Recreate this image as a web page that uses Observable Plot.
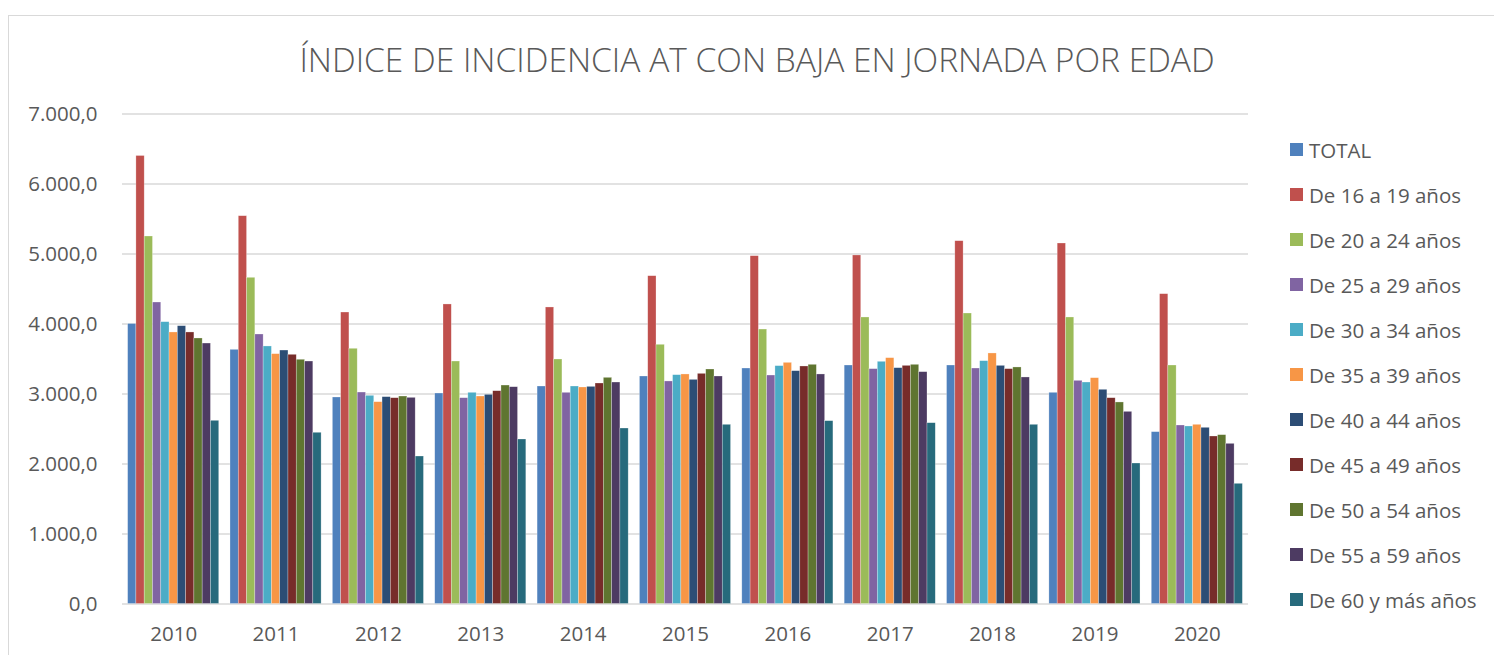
<!DOCTYPE html>
<html>
<head>
<meta charset="utf-8">
<script src="https://cdn.jsdelivr.net/npm/d3@7"></script>
<script src="https://cdn.jsdelivr.net/npm/@observablehq/plot@0.6"></script>
<style>
  body { margin: 0; background: #fff; font-family: "Open Sans", sans-serif; }
  #wrap { position: relative; width: 1494px; height: 655px; overflow: hidden; background: #fff; }
  #border { position: absolute; left: 8px; top: 15px; right: -2px; bottom: -2px; border-top: 1.5px solid #d9d9d9; border-left: 1.5px solid #d9d9d9; }
  #title { position: absolute; left: 0; top: 36px; width: 1514px; text-align: center; font-size: 33.5px; line-height: 46px; font-weight: 300; color: #595959; letter-spacing: 0; white-space: nowrap; }
  #legend { position: absolute; left: 1290px; top: 127px; }
  .item { height: 45px; display: flex; align-items: center; font-size: 20.5px; color: #595959; white-space: nowrap; }
  .sw { width: 13px; height: 13px; margin-right: 6px; flex: none; }
  #chart { position: absolute; left: 0; top: 0; }
</style>
</head>
<body>
<div id="wrap">
  <div id="border"></div>
  <div id="chart"></div>
  <div id="title">ÍNDICE DE INCIDENCIA AT CON BAJA EN JORNADA POR EDAD</div>
  <div id="legend"></div>
</div>
<script>
const years = ["2010", "2011", "2012", "2013", "2014", "2015", "2016", "2017", "2018", "2019", "2020"];
const series = ["TOTAL", "De 16 a 19 años", "De 20 a 24 años", "De 25 a 29 años", "De 30 a 34 años",
  "De 35 a 39 años", "De 40 a 44 años", "De 45 a 49 años", "De 50 a 54 años", "De 55 a 59 años", "De 60 y más años"];
const colors = ["#4F81BD", "#C0504D", "#9BBB59", "#8064A2", "#4BACC6", "#F79646",
  "#2C4D75", "#772C2A", "#5F7530", "#4D3B62", "#276A7C"];
const yTicks = [0, 1000, 2000, 3000, 4000, 5000, 6000, 7000];

// values per year, in the order of `series`
const v2010 = [4000, 6400, 5250, 4307, 4026, 3879, 3969, 3879, 3793, 3721, 2617];
const v2011 = [3631, 5540, 4660, 3850, 3679, 3569, 3621, 3560, 3489, 3464, 2446];
const v2012 = [2950, 4164, 3646, 3021, 2974, 2883, 2955, 2940, 2964, 2945, 2107];
const v2013 = [3007, 4279, 3464, 2940, 3017, 2964, 2988, 3040, 3121, 3097, 2350];
const v2014 = [3107, 4236, 3493, 3017, 3107, 3093, 3102, 3150, 3231, 3164, 2507];
const v2015 = [3250, 4683, 3703, 3179, 3269, 3279, 3202, 3288, 3350, 3250, 2560];
const v2016 = [3364, 4969, 3921, 3264, 3398, 3445, 3326, 3393, 3417, 3279, 2612];
const v2017 = [3407, 4979, 4093, 3355, 3460, 3512, 3369, 3402, 3417, 3312, 2583];
const v2018 = [3407, 5183, 4150, 3364, 3469, 3579, 3402, 3355, 3379, 3236, 2560];
const v2019 = [3017, 5150, 4093, 3188, 3164, 3226, 3060, 2940, 2879, 2745, 2007];
const v2020 = [2455, 4426, 3407, 2550, 2536, 2560, 2517, 2393, 2412, 2288, 1717];
const valuesByYear = [v2010, v2011, v2012, v2013, v2014, v2015, v2016, v2017, v2018, v2019, v2020];

const data = [];
years.forEach((yr, j) => series.forEach((s, i) => data.push({year: yr, series: s, idx: i, value: valuesByYear[j][i]})));

const W = 1494, H = 655;
const mL = 122, mR = 246, mT = 113.5, mB = 51.5;
const xOpts = {type: "band", domain: years, paddingInner: 0.11, paddingOuter: 0.055, round: false};
const xs = Plot.scale({x: {...xOpts, range: [mL, W - mR]}});
const bw = xs.bandwidth;
const n = series.length;
const slot = bw / n;

const locale = d3.formatLocale({decimal: ",", thousands: ".", grouping: [3], currency: ["", "€"]});
const fmt = locale.format(",.1f");

const barMarks = series.map((s, i) => Plot.barY(data.filter(d => d.idx === i), {
  x: "year", y: "value", fill: colors[i],
  insetLeft: i * slot, insetRight: (n - 1 - i) * slot,
  stroke: "#ffffff", strokeOpacity: 0.45, strokeWidth: 0.6
}));

const chart = Plot.plot({
  width: W, height: H,
  marginLeft: mL, marginRight: mR, marginTop: mT, marginBottom: mB,
  style: {fontFamily: "Open Sans, sans-serif", fontSize: "20.5px", color: "#595959", background: "transparent", overflow: "visible"},
  x: {...xOpts, label: null},
  y: {domain: [0, 7000], label: null},
  marks: [
    Plot.ruleY(yTicks, {stroke: "#d9d9d9", strokeWidth: 1.6}),
    ...barMarks,
    Plot.axisY(yTicks, {tickSize: 0, tickPadding: 25, tickFormat: fmt, fontSize: 20.5, fill: "#595959", label: null}),
    Plot.axisX({tickSize: 0, tickPadding: 22, fontSize: 20.5, fill: "#595959", label: null})
  ]
});
document.getElementById("chart").appendChild(chart);

const legend = document.getElementById("legend");
series.forEach((s, i) => {
  const it = document.createElement("div");
  it.className = "item";
  const sw = document.createElement("span");
  sw.className = "sw";
  sw.style.background = colors[i];
  const t = document.createElement("span");
  t.textContent = s;
  it.appendChild(sw); it.appendChild(t);
  legend.appendChild(it);
});
</script>
</body>
</html>
